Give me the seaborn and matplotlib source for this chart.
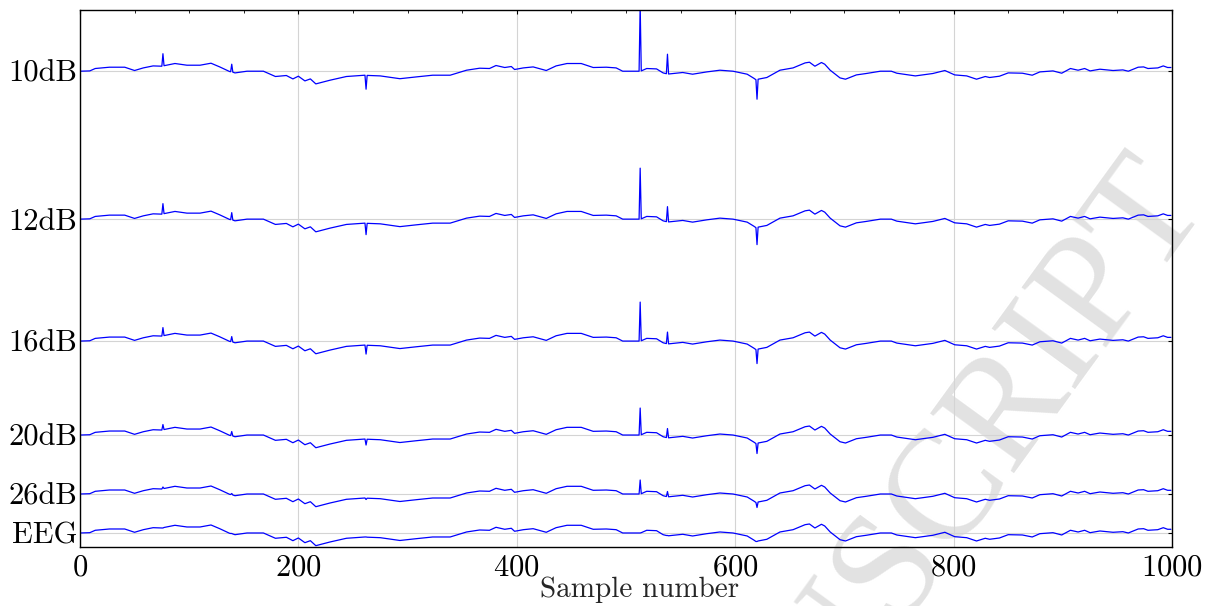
import numpy as np
import pandas as pd
import matplotlib
matplotlib.use("Agg")
import matplotlib.pyplot as plt
import seaborn as sns
from matplotlib.ticker import MultipleLocator

# -----------------------------
# Data
# -----------------------------
# Sample positions of the clean EEG trace (irregular, read at visible turning points)
samples = [0, 9, 14, 27, 41, 50, 58, 67, 75, 76, 77, 87, 98, 110, 120, 128, 137, 138, 139, 140,
           142, 153, 168, 179, 189, 195, 200, 206, 211, 216, 229, 244, 261, 262, 263, 275, 293,
           308, 323, 339, 354, 366, 375, 381, 389, 395, 398, 406, 415, 427, 436, 446, 459, 470,
           482, 491, 497, 512, 513, 514, 519, 528, 534, 537, 538, 539, 552, 561, 574, 586, 598,
           611, 617, 619, 620, 621, 629, 641, 653, 664, 668, 673, 679, 682, 687, 696, 701, 711,
           720, 733, 743, 748, 765, 781, 792, 801, 812, 821, 829, 833, 842, 850, 863, 872, 879,
           891, 899, 907, 914, 920, 925, 934, 946, 955, 960, 969, 974, 978, 987, 992, 996, 999]

# Clean EEG amplitude at those samples
eeg_base = [0.0, 0.3, 2.7, 4.0, 4.0, 0.7, 3.3, 5.3, 5.0, 5.0, 5.5, 7.7, 6.0, 6.0, 8.0, 4.3, -0.3,
            -0.5, -0.5, -1.0, -1.7, 0.0, 0.0, -5.3, -4.3, -7.7, -5.0, -9.7, -7.7, -12.7, -9.0,
            -5.3, -4.0, -4.0, -4.2, -4.7, -7.5, -5.7, -4.0, -4.0, 1.0, 3.0, 2.7, 5.7, 3.7, 4.7,
            1.7, 3.3, 4.3, 0.7, 5.3, 7.7, 7.7, 3.7, 4.0, 3.3, 0.0, 0.0, 0.0, 0.3, 2.7, 2.3, -1.7,
            -2.5, -2.5, -2.8, -1.3, -3.0, -0.7, 1.0, 0.0, -3.0, -7.0, -8.5, -8.5, -8.0, -6.3, 1.0,
            3.3, 8.3, 9.0, 5.0, 8.7, 7.0, 1.0, -6.7, -8.0, -3.7, -2.3, 0.0, 0.0, -2.0, -4.7, -2.3,
            0.7, -3.7, -4.7, -8.0, -5.3, -6.3, -5.0, -1.7, -2.0, -4.0, -0.7, 0.3, -2.0, 2.7, 1.0,
            2.7, 0.3, 2.0, 0.7, 1.3, 0.0, 4.0, 4.3, 2.7, 3.3, 5.3, 3.7, 3.7]

# Artifact spikes added on top of the EEG for each noise level
spike_samples = [76, 139, 262, 513, 538, 620]
spikes_10dB = [12.5, 7.5, -14.0, 66.0, 19.5, -19.5]
spikes_12dB = [10.5, 7.0, -11.5, 51.0, 15.0, -17.0]
spikes_16dB = [8.5, 5.0, -9.0, 39.0, 11.5, -14.0]
spikes_20dB = [5.5, 4.0, -6.0, 27.0, 9.0, -10.0]
spikes_26dB = [2.0, 1.0, -1.5, 14.0, 5.0, -5.0]
spikes_EEG = [0, 0, 0, 0, 0, 0]

trace_labels = ["10dB", "12dB", "16dB", "20dB", "26dB", "EEG"]
trace_offsets = [476, 328, 206, 112, 53, 14]
trace_spikes = [spikes_10dB, spikes_12dB, spikes_16dB, spikes_20dB, spikes_26dB, spikes_EEG]

# -----------------------------
# Build long table (one row per sample per trace)
# -----------------------------
frames = []
for label, offset, spikes in zip(trace_labels, trace_offsets, trace_spikes):
    values = np.array(eeg_base, dtype=float) + offset
    for s, amp in zip(spike_samples, spikes):
        values[samples.index(s)] += amp
    frames.append(pd.DataFrame({"sample": samples, "value": values, "trace": label}))
df = pd.concat(frames, ignore_index=True)

# -----------------------------
# Style
# -----------------------------
sns.set_style("white")
plt.rcParams["font.family"] = ["cmr10", "DejaVu Serif"]
plt.rcParams["mathtext.fontset"] = "cm"
plt.rcParams["axes.formatter.use_mathtext"] = True

fig = plt.figure(figsize=(12.28, 6.06), dpi=100)
ax = fig.add_axes([0.0651, 0.0974, 0.8893, 0.8862])

sns.lineplot(
    data=df, x="sample", y="value", hue="trace",
    palette=["#0000ff"] * len(trace_labels),
    estimator=None, legend=False, linewidth=0.9, ax=ax,
)

ax.set_xlim(0, 1000)
ax.set_ylim(0, 537.3)
ax.set_xticks([0, 200, 400, 600, 800, 1000])
ax.xaxis.set_minor_locator(MultipleLocator(50))
ax.set_yticks(trace_offsets)
ax.set_yticklabels(trace_labels)

ax.grid(True, which="major", color="#d4d4d4", linewidth=0.8)
ax.set_axisbelow(True)

ax.tick_params(axis="both", which="both", direction="in", top=True, right=True,
               labelsize=22, colors="black")
ax.tick_params(axis="both", which="major", length=3, width=0.8)
ax.tick_params(axis="both", which="minor", length=2, width=0.6)
ax.tick_params(axis="y", pad=2)
ax.tick_params(axis="x", pad=5)

for sp in ax.spines.values():
    sp.set_color("black")
    sp.set_linewidth(1.0)

ax.set_ylabel("")
ax.set_xlabel("Sample number", fontsize=21, va="baseline")
ax.xaxis.set_label_coords(0.512, -0.093)

# Watermark
ax.text(0.960, 0.700, "ACCEPTED MANUSCRIPT", transform=fig.transFigure,
        fontsize=112, color="#e2e2e2", family="Liberation Serif",
        rotation=54, rotation_mode="anchor", ha="right", va="center",
        clip_on=False, zorder=0.5)

fig.savefig("out.png", dpi=100)
